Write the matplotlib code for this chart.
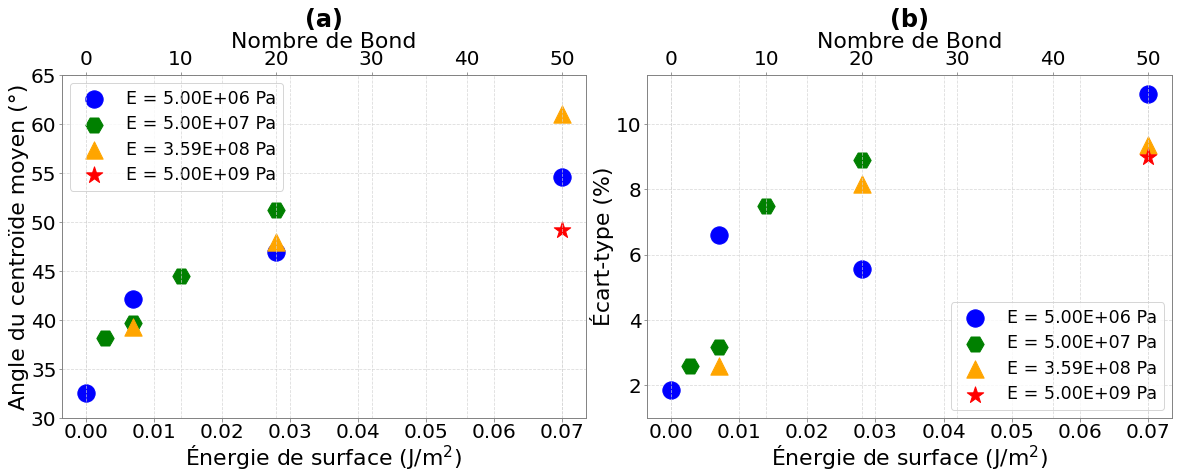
"""Angle du centroide et ecart-type vs energie de surface / nombre de Bond."""
import matplotlib
matplotlib.use("Agg")
from matplotlib import pyplot as plt

# Energie de surface par unite de nombre de Bond (50 Bond <-> 0.07 J/m2)
BOND_FACTOR = 0.07 / 50

labels = ["E = 5.00E+06 Pa", "E = 5.00E+07 Pa", "E = 3.59E+08 Pa", "E = 5.00E+09 Pa"]
colors = ["blue", "green", "orange", "red"]
markers = ["o", "H", "^", "*"]

# Nombre de Bond de chaque point, par serie
bond_e6 = [0, 5, 20, 50]
bond_e7 = [2, 5, 10, 20]
bond_e8 = [5, 20, 50]
bond_e9 = [50]

# (a) Angle du centroide moyen (deg)
angle_e6 = [32.6, 42.15, 46.95, 54.6]
angle_e7 = [38.15, 39.7, 44.5, 51.2]
angle_e8 = [39.25, 47.95, 61.0]
angle_e9 = [49.2]

# (b) Ecart-type (%)
std_e6 = [1.85, 6.6, 5.57, 10.92]
std_e7 = [2.6, 3.18, 7.48, 8.9]
std_e8 = [2.58, 8.15, 9.35]
std_e9 = [9.0]

bonds = [bond_e6, bond_e7, bond_e8, bond_e9]
angles = [angle_e6, angle_e7, angle_e8, angle_e9]
stds = [std_e6, std_e7, std_e8, std_e9]


def draw_panel(ax, ydata, title, ylabel, legend_loc, ylim):
    for b, y, c, m, lab in zip(bonds, ydata, colors, markers, labels):
        energy = [v * BOND_FACTOR for v in b]
        ax.scatter(energy, y, color=c, marker=m, s=300, label=lab, zorder=3)
    ax.set_ylim(*ylim)
    ax.set_xlabel("Énergie de surface (J/m$^2$)", fontsize=22, labelpad=1)
    ax.set_ylabel(ylabel, fontsize=22, labelpad=2)
    ax.tick_params(labelsize=20, color="gray", pad=2)
    ax.grid(True, color="lightgray", linestyle="--", linewidth=0.8, alpha=0.8)
    for sp in ax.spines.values():
        sp.set_color("gray")

    # axe du haut : nombre de Bond
    top = ax.twiny()
    lo, hi = ax.get_xlim()
    top.set_xlim(lo / BOND_FACTOR, hi / BOND_FACTOR)
    top.set_xticks([0, 10, 20, 30, 40, 50])
    top.set_xlabel("Nombre de Bond", fontsize=22, labelpad=2.5)
    top.tick_params(labelsize=20, color="gray", pad=2.5)
    top.grid(True, color="lightgray", linestyle="--", linewidth=0.8, alpha=0.8)
    for sp in top.spines.values():
        sp.set_color("gray")
    top.set_title(title, fontsize=24, fontweight="bold", pad=-1)

    ax.legend(loc=legend_loc, fontsize=17.5, labelspacing=0.42, borderaxespad=0.45)


# figure a 72 dpi : 1 pt = 1 px
fig = plt.figure(figsize=(1180 / 72, 470 / 72), dpi=72)
ax1 = fig.add_axes([62 / 1180, 52 / 470, 524 / 1180, 343 / 470])
ax2 = fig.add_axes([647 / 1180, 52 / 470, 525 / 1180, 343 / 470])
draw_panel(ax1, angles, "(a)", "Angle du centroïde moyen (°)", "upper left", (30, 65))
draw_panel(ax2, stds, "(b)", "Écart-type (%)", "lower right", (1.0, 11.5))
ax2.set_yticks([2, 4, 6, 8, 10])

plt.savefig("out.png")
